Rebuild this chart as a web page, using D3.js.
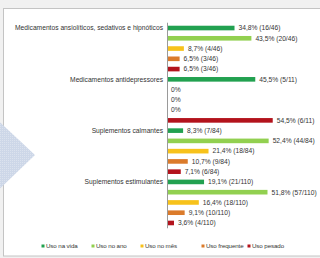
<!DOCTYPE html>
<html><head><meta charset="utf-8">
<script src="https://cdn.jsdelivr.net/npm/d3@7/dist/d3.min.js"></script>
<style>
html,body{margin:0;padding:0;background:#f1f1f1;overflow:hidden;}
svg{display:block;}
text{font-family:"Liberation Sans",Arial,sans-serif;fill:#333;}
</style></head><body>
<svg id="c" width="320" height="258"></svg>
<script>
const categories = ["Medicamentos ansiolíticos, sedativos e hipnóticos","Medicamentos antidepressores","Suplementos calmantes","Suplementos estimulantes"];
const seriesNames = ["Uso na vida","Uso no ano","Uso no mês","Uso frequente","Uso pesado"];
const colors = ["#22a150","#92d050","#f7c21b","#db7b2b","#b3131c"];
const pct = [
  [34.8,43.5,8.7,6.5,6.5],
  [45.5,0,0,0,54.5],
  [8.3,52.4,21.4,10.7,7.1],
  [19.1,51.8,16.4,9.1,3.6]
];
const counts = [
  ["16/46","20/46","4/46","3/46","3/46"],
  ["5/11","","","","6/11"],
  ["7/84","44/84","18/84","9/84","6/84"],
  ["21/110","57/110","18/110","10/110","4/110"]
];

const svg = d3.select("#c");
svg.append("rect").attr("x",3.5).attr("y",8.5).attr("width",340).attr("height",247.5)
  .attr("fill","#fff").attr("stroke","#c4c4c4");

const rows = [];
categories.forEach((c,i)=>seriesNames.forEach((s,j)=>rows.push({c,i,s,j,v:pct[i][j],n:counts[i][j]})));

const y = d3.scaleBand().domain(d3.range(rows.length)).range([22.9,228.1]).paddingInner(0.55).paddingOuter(0.275);
const x = d3.scaleLinear().domain([0,60]).range([167,283.4]);

const g = svg.append("g");
g.selectAll("rect.bar").data(rows).enter().append("rect").attr("class","bar")
  .attr("x",x(0)).attr("y",(d,k)=>y(k)).attr("height",y.bandwidth())
  .attr("width",d=>x(d.v)-x(0)).attr("fill",d=>colors[d.j]);

const fmt = v => (v===0?"0":v.toFixed(1).replace(".",","))+"%";
g.selectAll("text.lbl").data(rows).enter().append("text").attr("class","lbl")
  .attr("x",d=>x(d.v)+4).attr("y",(d,k)=>y(k)+y.bandwidth()/2).attr("dy","0.35em")
  .attr("font-size",6.7).text(d=>fmt(d.v)+(d.n?" ("+d.n+")":""));

svg.append("line").attr("x1",x(0)+0.5).attr("x2",x(0)+0.5).attr("y1",y(0)-3).attr("y2",y(rows.length-1)+y.bandwidth()+3)
  .attr("stroke","#9a9a9a").attr("stroke-width",1);

g.selectAll("text.cat").data(categories).enter().append("text").attr("class","cat")
  .attr("x",163).attr("y",(d,i)=>y(i*5)+y.bandwidth()/2).attr("dy","0.35em")
  .attr("text-anchor","end").attr("font-size",6.7).text(d=>d);

// legend
const legX = [43,93,142,203,249];
const leg = svg.append("g");
seriesNames.forEach((s,j)=>{
  leg.append("rect").attr("x",legX[j]-1.5).attr("y",244.5).attr("width",3).attr("height",3).attr("fill",colors[j]);
  leg.append("text").attr("x",legX[j]+3).attr("y",246).attr("dy","0.35em").attr("font-size",6.2).attr("letter-spacing",-0.1).text(s);
});

// decorative diamond
const defs = svg.append("defs");
const pat = defs.append("pattern").attr("id","dots").attr("width",2).attr("height",2).attr("patternUnits","userSpaceOnUse");
pat.append("rect").attr("width",2).attr("height",2).attr("fill","#cdd7e8");
pat.append("rect").attr("width",1).attr("height",1).attr("fill","#dbe2ee");
svg.append("polygon").attr("points","-12,111 35,155 -12,200").attr("fill","url(#dots)");
</script></body></html>
